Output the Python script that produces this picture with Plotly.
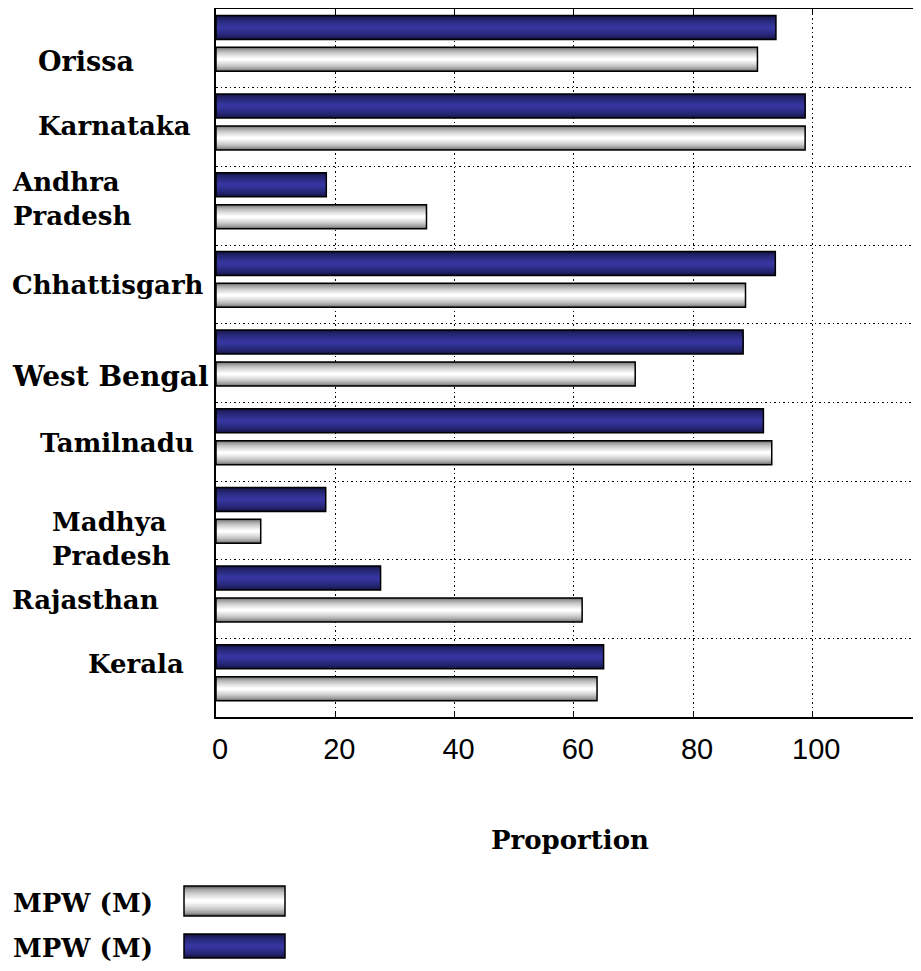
import plotly.graph_objects as go

# ---------------- data ----------------
states = ["Orissa", "Karnataka", "Andhra Pradesh", "Chhattisgarh", "West Bengal",
          "Tamilnadu", "Madhya Pradesh", "Rajasthan", "Kerala"]
mpw_blue = [93.9, 98.8, 18.5, 93.8, 88.4, 91.8, 18.4, 27.6, 65.0]
mpw_white = [90.8, 98.8, 35.3, 88.8, 70.3, 93.2, 7.5, 61.4, 63.9]
legend_labels = ["MPW (M)", "MPW (M)"]
x_ticks = [0, 20, 40, 60, 80, 100]
x_title = "Proportion"

# ---------------- style ----------------
# the page body adds an 8px margin on every side, so the figure is laid out smaller
BODY = 8
W, H = 921 - 2 * BODY, 971 - 2 * BODY
PLOT_L, PLOT_T, PLOT_B = 216, 9, 717          # absolute page pixels
ML, MR = PLOT_L - BODY, 0
MT = PLOT_T - BODY
PH = PLOT_B - PLOT_T
MB = H - MT - PH
PW = W - ML - MR
XMAX = PW / 5.963
SERIF = "DejaVu Serif"

display_text = {"Andhra Pradesh": "Andhra<br>Pradesh", "Madhya Pradesh": "Madhya<br>Pradesh"}
# label left edge (px) and vertical centre (px) per category, absolute page pixels
label_left = [36, 36, 10, 10, 10, 38, 50, 10, 86]
label_mid = [62, 126, 199, 285, 376, 443, 539, 600, 664]
label_size = [27, 26, 26, 26, 28, 26, 26, 26, 26]

BLUE_EDGE, BLUE_MID = (16, 16, 56), (54, 54, 160)
GREY_EDGE, GREY_MID = (95, 95, 95), (255, 255, 255)


def lerp(c1, c2, t):
    return "rgb(%d,%d,%d)" % tuple(round(a + (b - a) * t) for a, b in zip(c1, c2))


def px2x(px):
    return (px - PLOT_L) / PW


def py2y(py):
    return (PLOT_B - py) / PH


fig = go.Figure()


def gradient_bars(values, center, width, edge, mid, n=12):
    for k in range(n):
        f = 1 - k / n
        t = (k / (n - 1)) ** 0.55
        w = width * f
        fig.add_trace(go.Bar(x=values, y=states, orientation="h", width=w,
                             offset=center - w / 2,
                             marker=dict(color=lerp(edge, mid, t), line=dict(width=0)),
                             hoverinfo="skip", showlegend=False))
    fig.add_trace(go.Bar(x=values, y=states, orientation="h", width=width,
                         offset=center - width / 2,
                         marker=dict(color="rgba(0,0,0,0)", line=dict(color="black", width=1.5)),
                         hoverinfo="skip", showlegend=False))


BW = 0.305
gradient_bars(mpw_blue, -0.266, BW, BLUE_EDGE, BLUE_MID)
gradient_bars(mpw_white, 0.14, BW, GREY_EDGE, GREY_MID)

annotations = []
shapes = []
for i, s in enumerate(states):
    annotations.append(dict(text="<b>%s</b>" % display_text.get(s, s), xref="paper", yref="paper",
                            x=px2x(label_left[i]), y=py2y(label_mid[i]),
                            xanchor="left", yanchor="middle", align="left", showarrow=False,
                            font=dict(family=SERIF, size=label_size[i], color="black")))

annotations.append(dict(text="<b>%s</b>" % x_title, xref="paper", yref="paper",
                        x=px2x(570), y=py2y(840), xanchor="center", yanchor="middle",
                        showarrow=False, font=dict(family=SERIF, size=26, color="black")))

# custom legend
leg_rows = [(901, GREY_EDGE, GREY_MID), (946, BLUE_EDGE, BLUE_MID)]
leg_h = [30, 24]
for (cy, edge, mid), lab, hh in zip(leg_rows, legend_labels, leg_h):
    annotations.append(dict(text="<b>%s</b>" % lab, xref="paper", yref="paper",
                            x=px2x(11), y=py2y(cy + 2), xanchor="left", yanchor="middle",
                            showarrow=False, font=dict(family=SERIF, size=26, color="black")))
    n = 10
    for k in range(n):
        f = 1 - k / n
        t = (k / (n - 1)) ** 0.55
        h = hh * f
        shapes.append(dict(type="rect", xref="paper", yref="paper",
                           x0=px2x(184), x1=px2x(285), y0=py2y(cy - h / 2), y1=py2y(cy + h / 2),
                           fillcolor=lerp(edge, mid, t), line=dict(width=0), layer="above"))
    shapes.append(dict(type="rect", xref="paper", yref="paper",
                       x0=px2x(184), x1=px2x(285), y0=py2y(cy - hh / 2), y1=py2y(cy + hh / 2),
                       fillcolor="rgba(0,0,0,0)", line=dict(color="black", width=1.5), layer="above"))

fig.update_layout(
    width=W, height=H, margin=dict(l=ML, r=MR, t=MT, b=MB),
    paper_bgcolor="white", plot_bgcolor="white",
    barmode="overlay", showlegend=False,
    annotations=annotations, shapes=shapes,
    xaxis=dict(range=[0, XMAX], tickvals=x_ticks, ticktext=[str(v) for v in x_ticks],
               showgrid=True, gridcolor="black", griddash="1.5px,3px", gridwidth=1,
               showline=True, linecolor="black", linewidth=1.5, mirror="ticks",
               ticks="inside", ticklen=5, tickcolor="black",
               tickfont=dict(family="Liberation Sans", size=29, color="black"),
               ticklabelstandoff=5, ticklabelshift=4, zeroline=False, fixedrange=True),
    yaxis=dict(type="category", categoryarray=states, range=[len(states) - 0.5, -0.5],
               tickson="boundaries", showgrid=True, gridcolor="black", griddash="1.5px,3px", gridwidth=1,
               showticklabels=False, ticks="", showline=True, linecolor="black", linewidth=1.5,
               mirror=False, zeroline=False, fixedrange=True),
)

fig.write_html("out.html")
